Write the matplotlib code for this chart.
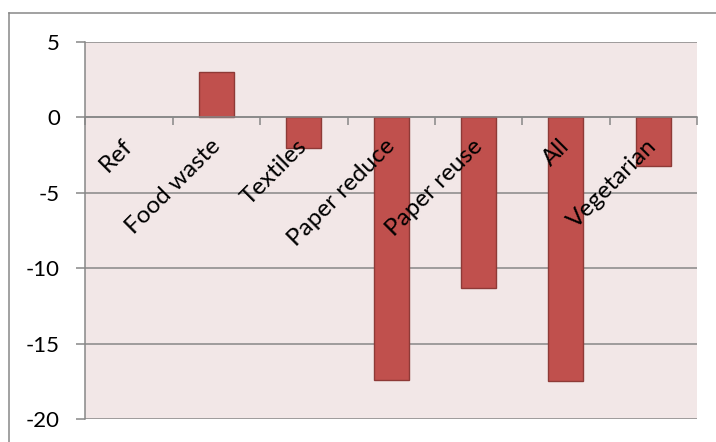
import matplotlib
matplotlib.use("Agg")
import matplotlib.pyplot as plt
from matplotlib.lines import Line2D

categories = ["Ref", "Food waste", "Textiles", "Paper reduce", "Paper reuse", "All", "Vegetarian"]
values = [0.0, 3.0, -2.0, -17.4, -11.3, -17.5, -3.2]
yticks = [5, 0, -5, -10, -15, -20]

plt.rcParams["font.family"] = ["Lato", "DejaVu Sans"]

W, H = 716, 442
fig = plt.figure(figsize=(W / 100, H / 100), dpi=100)
fig.patch.set_facecolor("white")

left, right = 85.4 / W, 697 / W
top, bottom = 1 - 42 / H, 1 - 419 / H
ax = fig.add_axes([left, bottom, right - left, top - bottom])
ax.set_facecolor("#F2E7E7")

grey = "#878787"
x = list(range(len(categories)))
edges = ["#8E3A37" if v != 0 else "none" for v in values]
ax.bar(x, values, width=0.4, color="#C0504D", edgecolor=edges, linewidth=1.0, zorder=3)

ax.set_xlim(-0.5, len(categories) - 0.5)
ax.set_ylim(-20, 5)
ax.set_yticks(yticks)
ax.set_yticklabels([str(v) for v in yticks])
ax.yaxis.grid(True, color=grey, linewidth=1.1)
ax.set_axisbelow(True)

for s in ("top", "right"):
    ax.spines[s].set_visible(False)
ax.spines["left"].set_color(grey)
ax.spines["left"].set_linewidth(1.1)
ax.spines["bottom"].set_position(("data", 0))
ax.spines["bottom"].set_color(grey)
ax.spines["bottom"].set_linewidth(1.1)
ax.spines["bottom"].set_zorder(4)

ax.set_xticks([i - 0.5 for i in range(len(categories) + 1)])
ax.set_xticklabels([])
ax.tick_params(axis="x", direction="out", length=5.5, width=1.1, color=grey)
ax.tick_params(axis="y", direction="out", length=6.3, width=1.1, color=grey,
               labelsize=16, pad=12, labelcolor="black")

# Category names, rotated and hung below the zero axis
for i, name in enumerate(categories):
    ax.text(i + 0.055, -2.0, name, rotation=45, rotation_mode="anchor",
            ha="right", va="baseline", fontsize=17.5, color="black", zorder=5)

# Chart area border (left and top edges)
fig.add_artist(Line2D([8.5 / W, 8.5 / W], [0, 1 - 12.5 / H], transform=fig.transFigure,
                      color=grey, linewidth=1.1))
fig.add_artist(Line2D([8.5 / W, 1], [1 - 12.5 / H, 1 - 12.5 / H], transform=fig.transFigure,
                      color=grey, linewidth=1.1))

fig.savefig("out.png", dpi=100)
